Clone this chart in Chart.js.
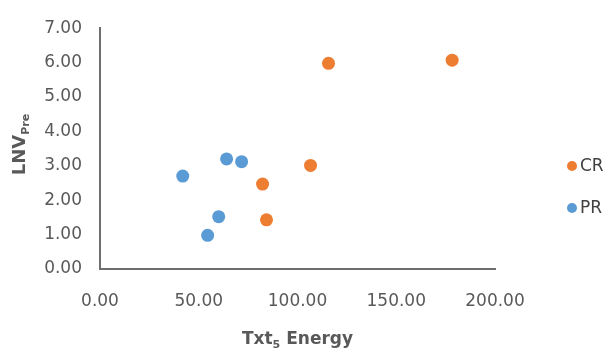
<!DOCTYPE html>
<html><head><meta charset="utf-8">
<script src="https://cdn.jsdelivr.net/npm/chart.js@4/dist/chart.umd.min.js"></script>
<style>html,body{margin:0;padding:0;background:#fff}</style>
</head><body>
<canvas id="c" width="609" height="353"></canvas>
<script>
const seriesNames = ['CR', 'PR'];
const seriesColors = ['#ED7D31', '#5B9BD5'];
const crX = [115.7, 178.3, 106.6, 82.3, 84.3];
const crY = [5.98, 6.07, 3.01, 2.47, 1.43];
const prX = [41.9, 64.1, 71.7, 60.1, 54.5];
const prY = [2.70, 3.20, 3.12, 1.52, 0.98];
const xTicks = [0, 50, 100, 150, 200];
const yTicks = [0, 1, 2, 3, 4, 5, 6, 7];
const xTitle = ['Txt', '5', ' Energy'];
const yTitle = ['LNV', 'Pre'];

const toPts = (xs, ys) => xs.map((x, i) => ({x: x, y: ys[i]}));

const FONT = '"DejaVu Sans", sans-serif';
const TXT = '#595959';

const decor = {
  id: 'decor',
  afterDraw(chart) {
    const ctx = chart.ctx;
    const area = chart.chartArea;
    ctx.save();
    ctx.fillStyle = TXT;
    const big = 'bold 17px ' + FONT, small = 'bold 11px ' + FONT;
    ctx.font = big; const w0 = ctx.measureText(xTitle[0]).width;
    const w2 = ctx.measureText(xTitle[2]).width;
    ctx.font = small; const w1 = ctx.measureText(xTitle[1]).width;
    const total = w0 + w1 + w2;
    let x = (area.left + area.right) / 2 - total / 2;
    const yb = 344;
    ctx.textBaseline = 'alphabetic'; ctx.textAlign = 'left';
    ctx.font = big; ctx.fillText(xTitle[0], x, yb); x += w0;
    ctx.font = small; ctx.fillText(xTitle[1], x, yb + 4); x += w1;
    ctx.font = big; ctx.fillText(xTitle[2], x, yb);
    ctx.translate(25, (area.top + area.bottom) / 2);
    ctx.rotate(-Math.PI / 2);
    const bigY = 'bold 18px ' + FONT, smallY = 'bold 11px ' + FONT;
    ctx.font = bigY; const v0 = ctx.measureText(yTitle[0]).width;
    ctx.font = smallY; const v1 = ctx.measureText(yTitle[1]).width;
    let yx = -(v0 + v1) / 2 + 4;
    ctx.font = bigY; ctx.fillText(yTitle[0], yx, 0); yx += v0;
    ctx.font = smallY; ctx.fillText(yTitle[1], yx, 4);
    ctx.restore();
    ctx.save();
    const items = chart.data.datasets;
    const ly = [166, 208];
    items.forEach((ds, i) => {
      ctx.fillStyle = ds.backgroundColor;
      ctx.beginPath(); ctx.arc(572, ly[i], 5, 0, Math.PI * 2); ctx.fill();
      ctx.fillStyle = '#404040';
      ctx.font = '17px ' + FONT;
      ctx.textBaseline = 'middle'; ctx.textAlign = 'left';
      ctx.fillText(ds.label, 580, ly[i] + 1);
    });
    ctx.restore();
  }
};

new Chart(document.getElementById('c'), {
  type: 'scatter',
  data: {
    datasets: [
      {label: seriesNames[0], data: toPts(crX, crY), backgroundColor: seriesColors[0], borderWidth: 0, pointRadius: 6.5, pointHoverRadius: 6.5},
      {label: seriesNames[1], data: toPts(prX, prY), backgroundColor: seriesColors[1], borderWidth: 0, pointRadius: 6.5, pointHoverRadius: 6.5}
    ]
  },
  options: {
    responsive: false,
    animation: false,
    events: [],
    layout: {padding: {left: 0, top: 20, right: 114, bottom: 0}},
    plugins: {legend: {display: false}, tooltip: {enabled: false}},
    scales: {
      x: {
        type: 'linear', min: 0, max: 200,
        afterBuildTicks: s => { s.ticks = xTicks.map(v => ({value: v})); },
        afterFit: s => { s.height = 84; },
        grid: {display: false, drawTicks: false},
        border: {display: true, color: '#6e6e6e', width: 2},
        ticks: {padding: 22, color: TXT, font: {family: FONT, size: 17}, callback: v => Number(v).toFixed(2), maxRotation: 0}
      },
      y: {
        type: 'linear', min: 0, max: 7,
        afterBuildTicks: s => { s.ticks = yTicks.map(v => ({value: v})); },
        afterFit: s => { s.width = 100; },
        grid: {display: false, drawTicks: false},
        border: {display: true, color: '#6e6e6e', width: 2},
        ticks: {padding: 18, color: TXT, font: {family: FONT, size: 17}, callback: v => Number(v).toFixed(2)}
      }
    }
  },
  plugins: [decor]
});
</script>
</body></html>
